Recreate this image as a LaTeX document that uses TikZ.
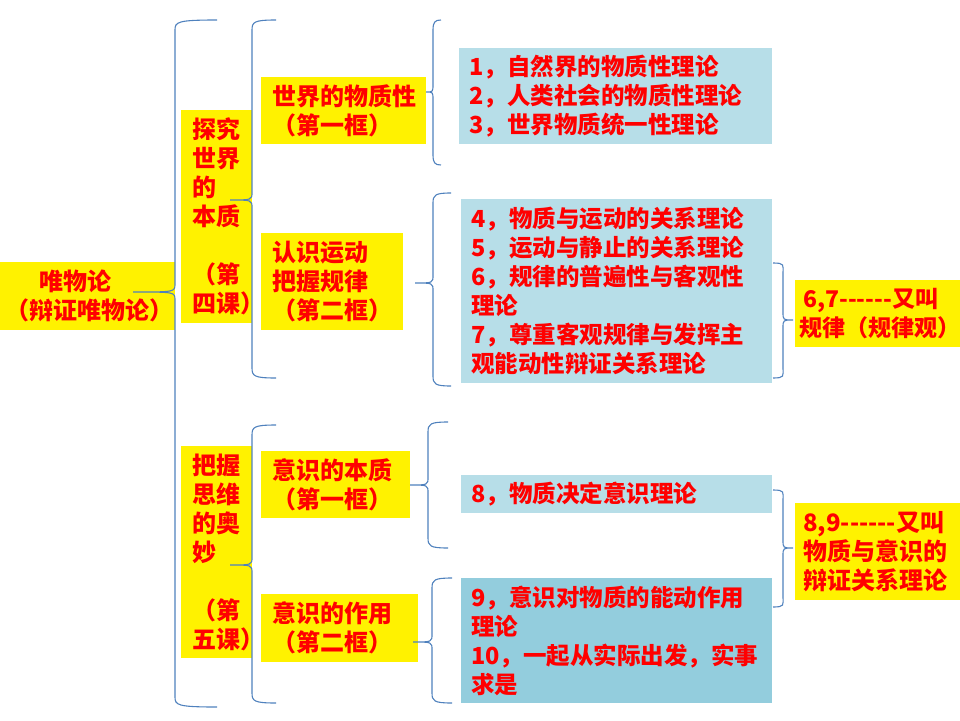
\documentclass[tikz,border=0pt]{standalone}
\usepackage{fontspec}
\usepackage{tikz}
\newfontfamily\cjkfont{Noto Sans CJK SC}

\definecolor{paleblue}{HTML}{B7DEE8}
\definecolor{deepblue}{HTML}{93CDDD}
\definecolor{bracecol}{HTML}{4F81BD}

% brace: line x, top, bottom, tip x, tip y, end length
\newcommand{\brc}[6]{%
\draw[brcline] ({#1+#6},#2) .. controls ({#1+2},#2) and (#1,{#2+2}) .. (#1,{#2+10})
  -- (#1,{#5-8}) .. controls (#1,#5) .. (#4,#5) .. controls (#1,#5) .. (#1,{#5+8})
  -- (#1,{#3-10}) .. controls (#1,{#3-2}) and ({#1+2},#3) .. ({#1+#6},#3);}

\begin{document}
\begin{tikzpicture}[x=1pt,y=-1pt,
  brcline/.style={color=bracecol,line width=1.1pt},
  ybox/.style={fill=yellow,text=red,font=\cjkfont\bfseries\fontsize{24}{29}\selectfont,
    align=left,inner xsep=11pt,inner ysep=0pt,anchor=north west},
  bbox/.style={ybox,fill=paleblue,inner xsep=10pt,font=\cjkfont\bfseries\fontsize{23.5}{29}\selectfont}]

\useasboundingbox (0,0) rectangle (960,720);

% root and lessons
\node[ybox,minimum width=175pt,minimum height=68pt,text width=165pt,inner xsep=5pt] (root) at (0,262)
  {\hspace*{34pt}唯物论\\（辩证唯物论）};
\node[ybox,minimum width=71pt,minimum height=213pt,text width=49pt] (lessonA) at (181,110)
  {探究\\世界\\的\\本质\\[29pt]（第\\四课）};
\node[ybox,minimum width=71pt,minimum height=212pt,text width=49pt] (lessonB) at (181,446)
  {把握\\思维\\的奥\\妙\\[29pt]（第\\五课）};

% frames
\node[ybox,minimum width=165pt,minimum height=67pt,text width=143pt] (frameA) at (261,77)
  {世界的物质性\\（第一框）};
\node[ybox,minimum width=142pt,minimum height=97pt,text width=120pt] (frameB) at (261,233)
  {认识运动\\把握规律\\（第二框）};
\node[ybox,minimum width=149pt,minimum height=67pt,text width=127pt] (frameC) at (261,451)
  {意识的本质\\（第一框）};
\node[ybox,minimum width=157pt,minimum height=68pt,text width=135pt] (frameD) at (261,594)
  {意识的作用\\（第二框）};

% theory lists
\node[bbox,minimum width=313pt,minimum height=96pt,text width=293pt] (listA) at (459,48)
  {1，自然界的物质性理论\\2，人类社会的物质性理论\\3，世界物质统一性理论};
\node[bbox,minimum width=311pt,minimum height=184pt,text width=291pt] (listB) at (461,199)
  {4，物质与运动的关系理论\\5，运动与静止的关系理论\\6，规律的普遍性与客观性\\理论\\7，尊重客观规律与发挥主\\观能动性辩证关系理论};
\node[bbox,minimum width=311pt,minimum height=38pt,text width=291pt] (listC) at (461,475)
  {8，物质决定意识理论};
\node[bbox,fill=deepblue,minimum width=311pt,minimum height=125pt,text width=291pt] (listD) at (461,578)
  {9，意识对物质的能动作用\\理论\\10，一起从实际出发，实事\\求是};

% side notes
\node[ybox,minimum width=165pt,minimum height=67pt,text width=161pt,inner xsep=2pt,
  font=\cjkfont\bfseries\fontsize{23}{29}\selectfont] (noteA) at (795,280)
  {\hspace*{6pt}6,7------又叫\\\hspace*{2pt}规律（规律观）};
\node[ybox,minimum width=165pt,minimum height=97pt,text width=149pt,inner xsep=8pt] (noteB) at (795,503)
  {8,9------又叫\\物质与意识的\\辩证关系理论};

% braces
\brc{175}{20}{707}{133}{292}{42}
\brc{252}{20}{378}{230}{200}{24}
\brc{252}{425}{703}{230}{565}{24}
\brc{433}{20}{165}{426}{92}{8}
\brc{433}{193}{386}{415}{283}{18}
\brc{428}{422}{548}{410}{485}{20}
\brc{432}{578}{703}{413}{642}{20}
\brc{783}{263}{378}{793}{320}{-10}
\brc{783}{490}{607}{793}{548}{-10}

\end{tikzpicture}
\end{document}
